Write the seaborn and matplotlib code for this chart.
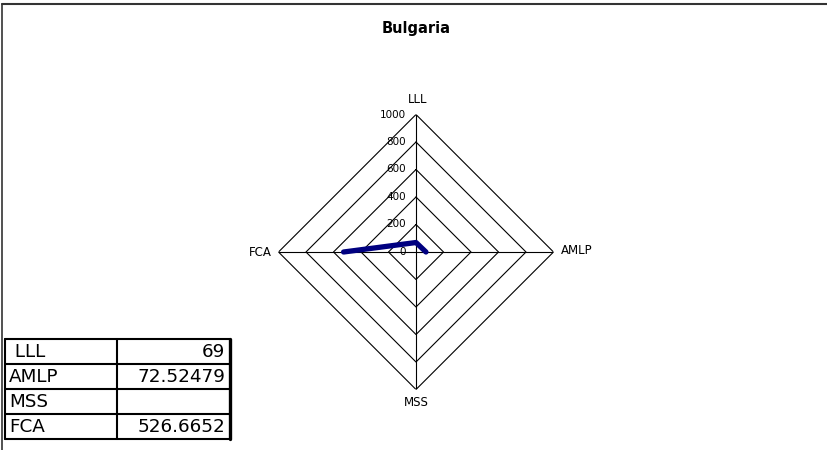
import numpy as np
import pandas as pd
import matplotlib
matplotlib.use("Agg")
import matplotlib.pyplot as plt
import seaborn as sns
from matplotlib.lines import Line2D

# ---------------- data ----------------
title = "Bulgaria"
categories = ["LLL", "AMLP", "MSS", "FCA"]
values = [69, 72.52479, np.nan, 526.6652]
value_labels = ["69", "72.52479", "", "526.6652"]
table_labels = [" LLL", "AMLP", "MSS", "FCA"]
r_ticks = [0, 200, 400, 600, 800, 1000]
r_max = 1000

# ---------------- style ----------------
sns.set_theme(style="white")
plt.rcParams['font.family'] = ['DejaVu Sans']

W, H = 828, 450
PT = 0.72  # points per pixel at dpi 100
fig = plt.figure(figsize=(W / 100, H / 100), dpi=100)
fig.patch.set_facecolor("white")

# ---------------- radar ----------------
cx, cy, R = 416, 252, 137.5
ax = fig.add_axes([(cx - R) / W, (H - cy - R) / H, 2 * R / W, 2 * R / H],
                  projection="polar")
ax.set_theta_zero_location("N")
ax.set_theta_direction(-1)
ax.grid(False)
ax.spines["polar"].set_visible(False)
ax.patch.set_alpha(0)

n = len(categories)
angles = np.arange(n) * 2 * np.pi / n

# polygon grid
for t in r_ticks[1:]:
    ax.plot(np.append(angles, angles[0]), [t] * (n + 1), color="black",
            lw=0.8, zorder=1)
for a in angles:
    ax.plot([a, a], [0, r_max], color="black", lw=0.8, zorder=1)

# data line (start at FCA so the visible path is FCA -> LLL -> AMLP)
order = [3, 0, 1, 2]
df = pd.DataFrame({
    "angle": [angles[i] for i in order],
    "value": [values[i] for i in order],
})
sns.lineplot(data=df, x="angle", y="value", sort=False, ax=ax,
             color="#000080", lw=3.8, solid_capstyle="round", zorder=3)
ax.set_xlabel("")
ax.set_ylabel("")
ax.set_xticks([])
ax.set_yticks([])
ax.set_ylim(0, r_max)

# category labels
label_offsets = {
    "LLL": ((1.5, 15), "center"),
    "AMLP": ((7, 1), "left"),
    "MSS": ((0, -13.5), "center"),
    "FCA": ((-7, 0), "right"),
}
for a, cat in zip(angles, categories):
    (dx, dy), ha = label_offsets[cat]
    ax.annotate(cat, xy=(a, r_max), xytext=(dx * PT, dy * PT),
                textcoords="offset points", ha=ha, va="center",
                fontsize=8.5, color="black", annotation_clip=False)

# radial tick labels
for t in r_ticks:
    ax.annotate(str(t), xy=(0, t), xytext=(-10 * PT, 0),
                textcoords="offset points", ha="right", va="center",
                fontsize=7.5, color="black", annotation_clip=False, zorder=4)

# title
fig.text(416 / W, 1 - 28 / H, title, ha="center", va="center",
         fontsize=10.5, fontweight="bold", color="black")

# ---------------- frame ----------------
fig.add_artist(Line2D([2 / W, 2 / W], [0, 1 - 4 / H], transform=fig.transFigure,
                      color="#333333", lw=1.2))
fig.add_artist(Line2D([2 / W, 1], [1 - 4 / H, 1 - 4 / H], transform=fig.transFigure,
                      color="#333333", lw=1.5))

# ---------------- data table ----------------
rows_y = [339, 364, 389, 414, 439]
cols_x = [5, 117, 230]


def fx(x):
    return x / W


def fy(y):
    return 1 - y / H


for y in rows_y:
    fig.add_artist(Line2D([fx(cols_x[0]), fx(cols_x[-1])], [fy(y), fy(y)],
                          transform=fig.transFigure, color="black", lw=1.5))
for x, lw in zip(cols_x, [1.5, 1.5, 2.4]):
    fig.add_artist(Line2D([fx(x), fx(x)], [fy(rows_y[0]), fy(rows_y[-1])],
                          transform=fig.transFigure, color="black", lw=lw))

for i, (lab, val) in enumerate(zip(table_labels, value_labels)):
    yc = (rows_y[i] + rows_y[i + 1]) / 2 + 0.5
    fig.text(fx(9), fy(yc), lab, ha="left", va="center", fontsize=13.2,
             color="black")
    if val:
        fig.text(fx(225), fy(yc), val, ha="right", va="center", fontsize=13.2,
                 color="black")

fig.savefig("out.png", dpi=100, facecolor="white")
